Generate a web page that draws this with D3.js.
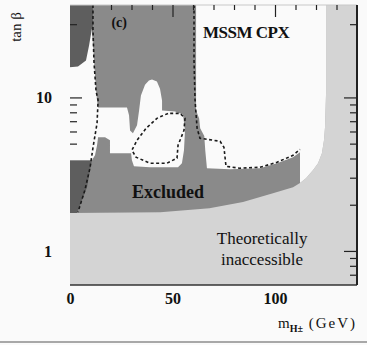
<!DOCTYPE html>
<html>
<head>
<meta charset="utf-8">
<style>
  body { margin: 0; background: #fafafa; }
  svg { display: block; }
  text { font-family: "Liberation Serif", "DejaVu Serif", serif; fill: #111; }
  .axis path { display: none; }
  .axis line { stroke: #222; stroke-width: 1.2px; }
  .dash { fill: none; stroke: #1a1a1a; stroke-width: 1.6px; stroke-dasharray: 3,2.5; }
</style>
</head>
<body>
<svg width="367" height="345"></svg>
<script src="https://cdn.jsdelivr.net/npm/d3@7"></script>
<script>

// tick values
var xLabels = [0, 50, 100];
var yLabels = [1, 10];
var topMinor = [20, 30, 40, 60, 70, 80, 90, 110, 120, 130];
var topMajor = [50, 100];
var leftMinor = [30, 9, 8, 7, 6, 5];
var rightMinor = [30, 9, 8, 7, 6, 5, 4, 3, 2, 0.9, 0.8, 0.7];
var rightMajor = [10, 1];

// regions, [mH (GeV), tan beta]
var theoryLimit = [[0,1.765],[44,1.79],[68,1.9],[84.4,2.08],[99,2.38],[108.8,2.6],[112.2,2.77],
  [115.1,2.98],[118.5,3.36],[121,3.73],[122.9,4.33],[123.9,5.26],[124.4,6.39],[124.9,10.6],[124.9,40]];

var darkCorner = [[0,40],[11.2,40],[11.2,15.7],[0,15.7]];
var darkStrip = [[0,3.9],[10.7,3.9],[9.8,3.36],[8.3,2.6],[5.9,2.14],[3.4,1.765],[0,1.765]];

var allowedLeft = [[10.7,28.1],[11.7,17.4],[12.7,11.1],[13.2,9.56],[13.7,8.61],[27.8,8.61],[28.8,7.64],
  [29.3,6.1],[30.7,5.84],[32.7,6.58],[33.7,8.23],[34.6,10.3],[36.6,12.1],[38.5,12.9],[40,13.1],[42.4,12.7],
  [43.9,11.4],[44.9,9.56],[44.9,8.23],[51.2,8.11],[55.1,7.75],[56.1,6.1],[55.6,4.53],[54.6,3.73],
  [52.7,3.51],[39,3.51],[31.2,3.56],[30.2,3.9],[29.8,4.33],[19.5,4.33],[19.5,5.26],[17.1,5.5],
  [13.7,5.5],[13.2,4.88],[12.2,4.2],[10.7,3.9],[0,3.9],[0,15.7],[3.9,15.9],[7.8,17.4],[9.3,21.8]];

var allowedRight = [[61.5,40],[61.5,8.23],[63,7.3],[63.5,6.3],[65.5,5.6],[66,4.5],[66.8,3.46],
  [78,3.41],[92.7,3.46],[101,3.73],[108.8,4.08],[112.2,4.39],[112.2,2.77],
  [115.1,2.98],[118.5,3.36],[121,3.73],[122.9,4.33],[123.9,5.26],[124.4,6.39],[124.9,10.6],[124.9,40]];

var dashLeft = [[11.2,40],[11.2,28],[11.7,17],[12.7,11],[13.7,9.6],[13.2,6.8],[11.2,4.7],
  [9.8,3.5],[7.3,2.5],[3.9,1.79]];
var dashLoop = [[47.8,7.87],[42.4,7.31],[37.1,6.29],[32.7,5.26],[30.2,4.53],[32.2,4.08],[39,3.73],
  [47.3,3.73],[52.2,4.02],[52.7,4.88],[55.6,6.1],[56.1,7.31],[53.7,7.87]];
var dashRight = [[60.5,40],[60.5,17.4],[61,9.56],[62,6.29],[63.4,5.42],[73.2,5.18],[75.1,4.73],
  [76.1,3.56],[82.9,3.46],[92.7,3.51],[101,3.78],[108.8,4.2],[112.2,4.59]];

var svg = d3.select("svg");
var margin = {left: 70, top: 5, right: 10, bottom: 60};
var width = 367 - margin.left - margin.right,
    height = 345 - margin.top - margin.bottom;

var x = d3.scaleLinear().domain([0, 140]).range([margin.left, margin.left + width]);
var y = d3.scaleLog().domain([0.6, 40]).range([margin.top + height, margin.top]);

var area = d3.line().x(function(d) { return x(d[0]); }).y(function(d) { return y(d[1]); });

// theoretically inaccessible background
svg.append("rect")
    .attr("x", x(0)).attr("y", y(40))
    .attr("width", x(140) - x(0)).attr("height", y(0.6) - y(40))
    .attr("fill", "#d4d4d4");

// excluded
svg.append("path").datum([[0,40]].concat(theoryLimit))
    .attr("d", function(d) { return area(d) + "Z"; })
    .attr("fill", "#8a8a8a");

[darkCorner, darkStrip].forEach(function(p) {
  svg.append("path").datum(p).attr("d", function(d) { return area(d) + "Z"; }).attr("fill", "#5e5e5e");
});
[allowedLeft, allowedRight].forEach(function(p) {
  svg.append("path").datum(p).attr("d", function(d) { return area(d) + "Z"; }).attr("fill", "#fafafa");
});

svg.append("path").datum(dashLeft).attr("class", "dash").attr("d", area);
svg.append("path").datum(dashLoop).attr("class", "dash").attr("d", function(d) { return area(d) + "Z"; });
svg.append("path").datum(dashRight).attr("class", "dash").attr("d", area);

// frame
svg.append("line").attr("x1", x(0)).attr("x2", x(140)).attr("y1", y(40)).attr("y2", y(40))
    .attr("stroke", "#c8c8c8").attr("stroke-width", 1);
svg.append("line").attr("x1", x(0)).attr("x2", x(140)).attr("y1", y(0.6)).attr("y2", y(0.6))
    .attr("stroke", "#333").attr("stroke-width", 1.6);
svg.append("line").attr("x1", x(140)).attr("x2", x(140)).attr("y1", y(40)).attr("y2", y(0.6))
    .attr("stroke", "#222").attr("stroke-width", 2);

// ticks
svg.append("g").attr("class", "axis").attr("transform", "translate(0," + y(40) + ")")
    .call(d3.axisBottom(x).tickValues(topMinor).tickSize(5).tickFormat(""));
svg.append("g").attr("class", "axis").attr("transform", "translate(0," + y(40) + ")")
    .call(d3.axisBottom(x).tickValues(topMajor).tickSize(12).tickFormat(""));
svg.append("g").attr("class", "axis").attr("transform", "translate(" + x(0) + ",0)")
    .call(d3.axisRight(y).tickValues(leftMinor).tickSize(7).tickFormat(""));
svg.append("g").attr("class", "axis").attr("transform", "translate(" + x(0) + ",0)")
    .call(d3.axisRight(y).tickValues([10]).tickSize(12).tickFormat(""));
svg.append("g").attr("class", "axis").attr("transform", "translate(" + x(140) + ",0)")
    .call(d3.axisLeft(y).tickValues(rightMinor).tickSize(7).tickFormat(""));
svg.append("g").attr("class", "axis").attr("transform", "translate(" + x(140) + ",0)")
    .call(d3.axisLeft(y).tickValues(rightMajor).tickSize(13).tickFormat(""));

// tick labels
var yl = svg.append("g").attr("class", "axis").attr("transform", "translate(" + x(0) + ",0)")
    .call(d3.axisLeft(y).tickValues(yLabels).tickSize(0).tickPadding(18).tickFormat(d3.format("d")));
var xl = svg.append("g").attr("class", "axis").attr("transform", "translate(0," + y(0.6) + ")")
    .call(d3.axisBottom(x).tickValues(xLabels).tickSize(0).tickPadding(8).tickFormat(d3.format("d")));
[yl, xl].forEach(function(g) {
  g.selectAll("text").attr("font-size", 16).attr("font-weight", "bold")
      .style("font-family", "'Liberation Serif', serif").attr("fill", "#111");
});

// annotations
svg.append("text").attr("x", x(24)).attr("y", y(28.9)).attr("text-anchor", "middle")
    .attr("font-size", 14).attr("font-weight", "bold").text("(c)");
svg.append("text").attr("x", x(64.9)).attr("y", y(24.5))
    .attr("font-size", 17).attr("font-weight", "bold").attr("letter-spacing", -0.5).text("MSSM CPX");
svg.append("text").attr("x", x(30.2)).attr("y", y(2.21))
    .attr("font-size", 18).attr("font-weight", "bold").text("Excluded");
svg.append("text").attr("x", x(93.7)).attr("y", y(1.11)).attr("text-anchor", "middle")
    .attr("font-size", 17).text("Theoretically");
svg.append("text").attr("x", x(93.7)).attr("y", y(0.81)).attr("text-anchor", "middle")
    .attr("font-size", 17).text("inaccessible");

// axis titles
svg.append("text").attr("transform", "translate(21,27) rotate(-90)").attr("text-anchor", "middle")
    .attr("font-size", 15).text("tan \u03b2");
var xt = svg.append("text").attr("x", x(140)).attr("y", 328).attr("text-anchor", "end").attr("font-size", 15);
xt.append("tspan").text("m");
xt.append("tspan").attr("font-size", 10).attr("font-weight", "bold").attr("dy", 4).text("H\u00b1");
xt.append("tspan").attr("dy", -4).attr("letter-spacing", 2).text(" (GeV)");

// page bottom rule
svg.append("line").attr("x1", 0).attr("x2", 367).attr("y1", 342).attr("y2", 342)
    .attr("stroke", "#a8a8a8").attr("stroke-width", 2);

</script>
</body>
</html>
